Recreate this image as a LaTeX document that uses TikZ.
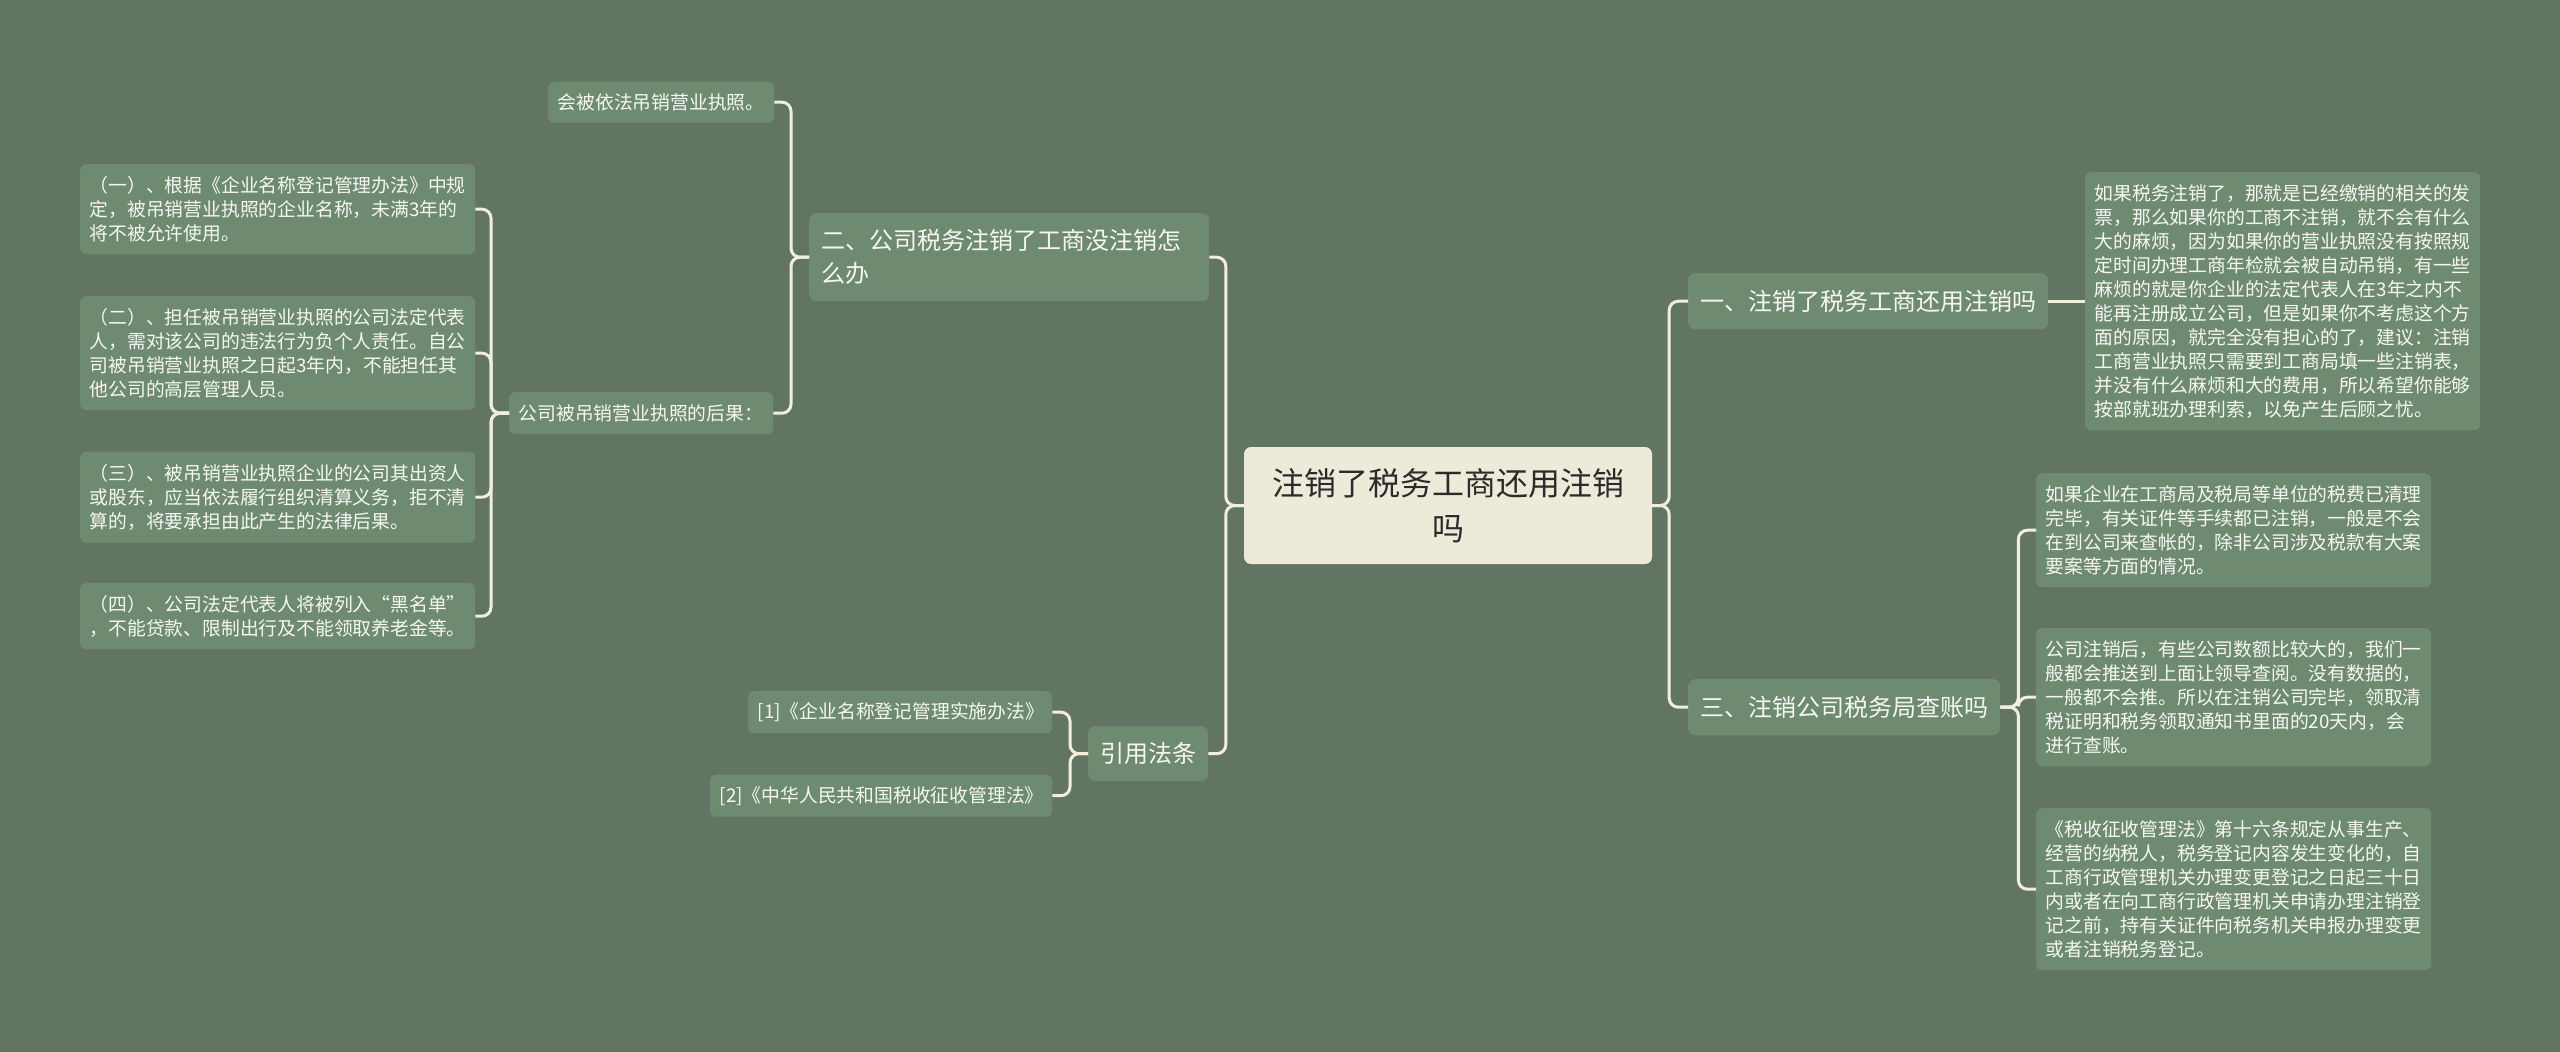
\documentclass[tikz,border=0pt]{standalone}
\usepackage{fontspec}
\setmainfont{Noto Sans CJK SC}
\usepackage{tikz}
\usetikzlibrary{positioning,calc}
\definecolor{mbg}{HTML}{627563}
\definecolor{mfill}{HTML}{6E8B72}
\definecolor{mtext}{HTML}{F7F7F2}
\definecolor{rfill}{HTML}{EEEAD9}
\definecolor{rtext}{HTML}{2B2B2B}
\definecolor{mline}{HTML}{F2EEDC}
\tikzset{
 box/.style={rounded corners=7pt,align=left,anchor=north west,inner ysep=0pt},
 rootbox/.style={box,anchor=center,align=center,fill=rfill,text=rtext,inner xsep=0pt,
   minimum width=408pt,minimum height=117pt,font=\fontsize{32}{45}\selectfont},
 branchbox/.style={box,fill=mfill,text=mtext,inner xsep=12pt,font=\fontsize{24}{33}\selectfont},
 leafbox/.style={box,fill=mfill,text=mtext,inner xsep=9.5pt,rounded corners=6pt,
   font=\fontsize{18.8}{24}\selectfont},
 link/.style={draw=mline,line width=3pt,rounded corners=9pt}
}

\begin{document}
\begin{tikzpicture}[x=1pt,y=-1pt]
 \fill[mbg] (0,0) rectangle (2560,1052);
 \useasboundingbox (0,0) rectangle (2560,1052);
 \node[rootbox] (root) at (1448,505.5) {注销了税务工商还用注销\\吗};
 % right side
 \node[branchbox,text width=336pt,minimum height=56pt] (taxq) at (1688,273) {一、注销了税务工商还用注销吗};
 \node[leafbox,text width=376pt,minimum height=258pt] (tax1) at (2085,172) {如果税务注销了，那就是已经缴销的相关的发\\票，那么如果你的工商不注销，就不会有什么\\大的麻烦，因为如果你的营业执照没有按照规\\定时间办理工商年检就会被自动吊销，有一些\\麻烦的就是你企业的法定代表人在3年之内不\\能再注册成立公司，但是如果你不考虑这个方\\面的原因，就完全没有担心的了，建议：注销\\工商营业执照只需要到工商局填一些注销表，\\并没有什么麻烦和大的费用，所以希望你能够\\按部就班办理利索，以免产生后顾之忧。};
 \node[branchbox,text width=288pt,minimum height=56pt] (auditq) at (1688,679) {三、注销公司税务局查账吗};
 \node[leafbox,text width=376pt,minimum height=114pt] (audit1) at (2036,473) {如果企业在工商局及税局等单位的税费已清理\\完毕，有关证件等手续都已注销，一般是不会\\在到公司来查帐的，除非公司涉及税款有大案\\要案等方面的情况。};
 \node[leafbox,text width=376pt,minimum height=138pt] (audit2) at (2036,628) {公司注销后，有些公司数额比较大的，我们一\\般都会推送到上面让领导查阅。没有数据的，\\一般都不会推。所以在注销公司完毕，领取清\\税证明和税务领取通知书里面的20天内，会\\进行查账。};
 \node[leafbox,text width=376pt,minimum height=162pt] (audit3) at (2036,808) {《税收征收管理法》第十六条规定从事生产、\\经营的纳税人，税务登记内容发生变化的，自\\工商行政管理机关办理变更登记之日起三十日\\内或者在向工商行政管理机关申请办理注销登\\记之前，持有关证件向税务机关申报办理变更\\或者注销税务登记。};
 % left side
 \node[branchbox,text width=376pt,minimum height=88pt] (bizq) at (809,213) {二、公司税务注销了工商没注销怎\\么办};
 \node[leafbox,text width=207pt,minimum height=41pt] (revoke) at (548,81.5) {会被依法吊销营业执照。};
 \node[leafbox,text width=245pt,minimum height=42pt] (conseq) at (509,392) {公司被吊销营业执照的后果：};
 \node[leafbox,text width=376pt,minimum height=90pt] (c1) at (80,164) {（一）、根据《企业名称登记管理办法》中规\\定，被吊销营业执照的企业名称，未满3年的\\将不被允许使用。};
 \node[leafbox,text width=376pt,minimum height=114pt] (c2) at (80,296) {（二）、担任被吊销营业执照的公司法定代表\\人，需对该公司的违法行为负个人责任。自公\\司被吊销营业执照之日起3年内，不能担任其\\他公司的高层管理人员。};
 \node[leafbox,text width=376pt,minimum height=91pt] (c3) at (80,451.5) {（三）、被吊销营业执照企业的公司其出资人\\或股东，应当依法履行组织清算义务，拒不清\\算的，将要承担由此产生的法律后果。};
 \node[leafbox,text width=376pt,minimum height=66pt] (c4) at (80,583) {（四）、公司法定代表人将被列入“黑名单”\\，不能贷款、限制出行及不能领取养老金等。};
 \node[branchbox,text width=96pt,minimum height=55pt] (lawref) at (1088,726) {引用法条};
 \node[leafbox,text width=285pt,minimum height=42pt] (ref1) at (748,691) {[1]《企业名称登记管理实施办法》};
 \node[leafbox,text width=323pt,minimum height=42pt] (ref2) at (710,774.5) {[2]《中华人民共和国税收征收管理法》};
 % connectors
 \draw[link] (taxq.west) -| ([xshift=17pt]root.east) [sharp corners] -- (root.east);
 \draw[link] (auditq.west) -| ([xshift=17pt]root.east) [sharp corners] -- (root.east);
 \draw[link] (bizq.east) -| ([xshift=-18pt]root.west) [sharp corners] -- (root.west);
 \draw[link] (lawref.east) -| ([xshift=-18pt]root.west) [sharp corners] -- (root.west);
 \draw[link] (taxq.east) -- (taxq.east -| tax1.west);
 \draw[link] (audit1.west) -| ([xshift=18pt]auditq.east) [sharp corners] -- (auditq.east);
 \draw[link] (audit2.west) -| ([xshift=18pt]auditq.east) [sharp corners] -- (auditq.east);
 \draw[link] (audit3.west) -| ([xshift=18pt]auditq.east) [sharp corners] -- (auditq.east);
 \draw[link] (revoke.east) -| ([xshift=-18pt]bizq.west) [sharp corners] -- (bizq.west);
 \draw[link] (conseq.east) -| ([xshift=-18pt]bizq.west) [sharp corners] -- (bizq.west);
 \draw[link] (c1.east) -| ([xshift=-18pt]conseq.west) [sharp corners] -- (conseq.west);
 \draw[link] (c2.east) -| ([xshift=-18pt]conseq.west) [sharp corners] -- (conseq.west);
 \draw[link] (c3.east) -| ([xshift=-18pt]conseq.west) [sharp corners] -- (conseq.west);
 \draw[link] (c4.east) -| ([xshift=-18pt]conseq.west) [sharp corners] -- (conseq.west);
 \draw[link] (ref1.east) -| ([xshift=-18pt]lawref.west) [sharp corners] -- (lawref.west);
 \draw[link] (ref2.east) -| ([xshift=-18pt]lawref.west) [sharp corners] -- (lawref.west);
\end{tikzpicture}
\end{document}
